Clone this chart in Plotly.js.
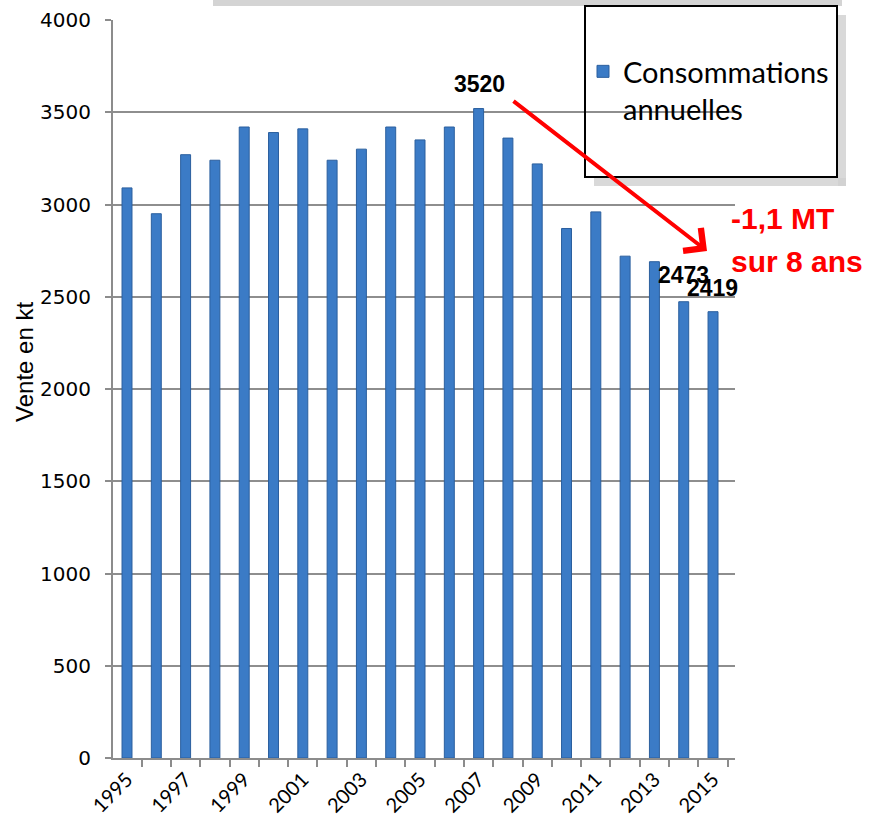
<!DOCTYPE html>
<html>
<head>
<meta charset="utf-8">
<script src="https://cdn.plot.ly/plotly-3.0.1.min.js"></script>
<style>html,body{margin:0;padding:0;background:#fff;} #chart{width:872px;height:817px;}</style>
</head>
<body>
<div id="chart"></div>
<script>
// ---- data ----
const years = ['1995','1996','1997','1998','1999','2000','2001','2002','2003','2004','2005','2006','2007','2008','2009','2010','2011','2012','2013','2014','2015'];
const consumption = [3090,2950,3270,3240,3420,3390,3410,3240,3300,3420,3350,3420,3520,3360,3220,2870,2960,2720,2690,2473,2419];
const seriesName = 'Consommations<br>annuelles';
const labelledYears = ['2007','2014','2015'];
const yTickVals = [0,500,1000,1500,2000,2500,3000,3500,4000];
const xTickText = years.map(y => (parseInt(y) % 2 === 1 ? y : ''));
const yTitle = 'Vente en kt';
const dropLines = ['-1,1 MT', 'sur 8 ans'];

// ---- layout helpers (pixel -> paper) ----
const W = 872, H = 817, ML = 113, MR = 137, MT = 20, MB = 59;
const PW = W - ML - MR, PH = H - MT - MB;
const px = x => (x - ML) / PW;
const py = y => (H - MB - y) / PH;

const trace = {
  type: 'bar',
  x: years,
  y: consumption,
  name: seriesName,
  marker: {color: '#3b7bc6', line: {color: '#2b5f9e', width: 1}},
  showlegend: true,
  hoverinfo: 'x+y'
};

const labelShifts = {'2007': [1, 25], '2014': [0, 27], '2015': [-1, 24]};
const annotations = labelledYears.map(yr => {
  const i = years.indexOf(yr);
  return {
    x: i, y: consumption[i], xref: 'x', yref: 'y',
    text: String(consumption[i]), showarrow: false,
    xshift: labelShifts[yr][0], yshift: labelShifts[yr][1],
    font: {family: 'Liberation Sans', size: 23, color: '#000', weight: 'bold'}
  };
});
// trend arrow
annotations.push({
  x: px(707), y: py(251), xref: 'paper', yref: 'paper',
  ax: 512 - 707, ay: 100 - 251, axref: 'pixel', ayref: 'pixel',
  text: '', showarrow: true, arrowhead: 4, arrowsize: 1.4, arrowwidth: 4,
  arrowcolor: '#ff0000', standoff: 0
});
const dropY = [218, 261];
dropLines.forEach((t, k) => annotations.push({
  x: px(729), y: py(dropY[k]), xref: 'paper', yref: 'paper',
  xanchor: 'left', yanchor: 'middle', align: 'left', showarrow: false,
  text: t,
  font: {family: 'Liberation Sans', size: 30, color: '#ff0000', weight: 'bold'}
}));
// y-axis title (placed as in the reference, off-centre)
annotations.push({
  x: px(24), y: py(362), xref: 'paper', yref: 'paper',
  xanchor: 'center', yanchor: 'middle', showarrow: false, textangle: -90,
  text: yTitle,
  font: {family: 'Liberation Sans', size: 24, color: '#000'}
});

const shapes = [
  {type: 'rect', xref: 'paper', yref: 'paper', x0: px(213), x1: px(842), y0: py(6), y1: py(0),
   line: {width: 0}, fillcolor: '#d4d4d4', layer: 'below'},
  {type: 'rect', xref: 'paper', yref: 'paper', x0: px(838), x1: px(846), y0: py(186), y1: py(15),
   line: {width: 0}, fillcolor: '#cfcfcf', opacity: 0.8},
  {type: 'rect', xref: 'paper', yref: 'paper', x0: px(594), x1: px(846), y0: py(186), y1: py(178),
   line: {width: 0}, fillcolor: '#cfcfcf', opacity: 0.8},
  {type: 'rect', xref: 'paper', yref: 'paper', x0: px(585), x1: px(837), y0: py(177), y1: py(6),
   line: {width: 2, color: '#000'}, fillcolor: 'rgba(0,0,0,0)'}
];

const layout = {
  width: W, height: H,
  margin: {l: ML, r: MR, t: MT, b: MB, autoexpand: false},
  paper_bgcolor: '#fff', plot_bgcolor: '#fff',
  font: {family: 'Lato', color: '#000'},
  bargap: 0.66,
  showlegend: true,
  legend: {
    x: px(583), y: py(46), xanchor: 'left', yanchor: 'top',
    bgcolor: 'rgba(0,0,0,0)', borderwidth: 0, valign: 'top',
    font: {family: 'Lato', size: 29, color: '#000'}
  },
  xaxis: {
    type: 'category',
    range: [-0.478, 20.75],
    tickmode: 'array', tickvals: years, ticktext: xTickText,
    tickson: 'boundaries', ticks: 'outside', ticklen: 7, tickcolor: '#8c8c8c', tickwidth: 2,
    tickangle: -45,
    showline: true, linecolor: '#8c8c8c', linewidth: 2,
    showgrid: false, zeroline: false,
    tickfont: {family: 'Lato', size: 20, color: '#000'},
    automargin: false, fixedrange: true
  },
  yaxis: {
    range: [0, 4000],
    tickmode: 'array', tickvals: yTickVals,
    ticks: 'outside', ticklen: 6, tickcolor: '#8c8c8c', tickwidth: 2,
    ticklabelstandoff: 10,
    showline: true, linecolor: '#8c8c8c', linewidth: 2,
    showgrid: true, gridcolor: '#8e8e8e', gridwidth: 2,
    zeroline: false,
    tickfont: {family: 'DejaVu Sans', size: 20, color: '#000'},
    automargin: false, fixedrange: true
  },
  annotations: annotations,
  shapes: shapes
};

Plotly.newPlot('chart', [trace], layout, {displayModeBar: false, staticPlot: true});
</script>
</body>
</html>
